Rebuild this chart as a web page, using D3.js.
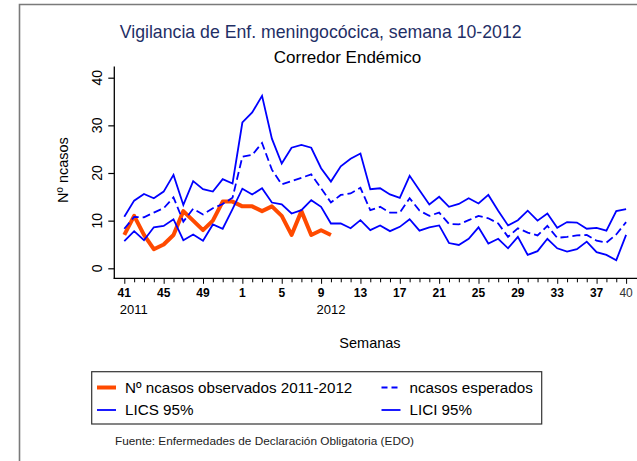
<!DOCTYPE html>
<html>
<head>
<meta charset="utf-8">
<script src="https://cdn.jsdelivr.net/npm/d3@7/dist/d3.min.js"></script>
<style>
  html, body { margin: 0; padding: 0; background: #fff; }
  svg { display: block; font-family: "Liberation Sans", Arial, sans-serif; }
</style>
</head>
<body>
<svg id="chart" width="637" height="461"></svg>
<script>
// ---- data ----
const weeks = ["41","42","43","44","45","46","47","48","49","50","51","52",
  "1","2","3","4","5","6","7","8","9","10","11","12","13","14","15","16","17","18","19","20",
  "21","22","23","24","25","26","27","28","29","30","31","32","33","34","35","36","37","38","39","40"];
const tickWeeks = ["41","45","49","1","5","9","13","17","21","25","29","33","37","40"];
const yTicks = [0, 10, 20, 30, 40];
const observados = [7, 11, 7, 4, 5, 7, 12, 10, 8, 10, 14, 14, 13, 13, 12, 13, 11, 7, 12, 7, 8, 7];
const esperados = [8.3, 10.8, 10.7, 11.7, 12.6, 14.9, 9.8, 12.5, 11.3, 12.6, 13.5, 14.8,
  23.4, 23.8, 26.3, 20.7, 17.6, 18.3, 19.0, 19.7, 16.8, 13.8, 15.4, 15.7, 16.9, 12.2,
  12.9, 11.7, 11.7, 14.7, 12.1, 11.0, 11.7, 9.3, 9.2, 10.1, 11.0, 10.5, 9.4, 6.6,
  8.4, 7.5, 6.9, 8.9, 6.4, 6.6, 6.9, 7.0, 5.8, 5.4, 7.1, 9.7];
const lics = [10.8, 14.2, 15.6, 14.7, 16.1, 19.6, 13.3, 18.3, 16.6, 16.1, 18.7, 17.8,
  30.6, 32.7, 36.2, 27.2, 22.0, 25.3, 25.9, 25.3, 21.0, 18.2, 21.4, 23.0, 24.1, 16.6,
  16.8, 15.5, 14.8, 19.4, 16.4, 13.4, 15.0, 12.9, 13.5, 14.7, 13.6, 15.4, 12.1, 9.0,
  10.1, 12.1, 10.0, 11.5, 8.5, 9.7, 9.6, 8.3, 8.5, 7.9, 12.0, 12.4];
const lici = [5.7, 7.8, 5.9, 8.6, 8.9, 10.3, 5.9, 7.1, 5.8, 9.2, 8.3, 12.4,
  16.7, 15.5, 16.8, 13.8, 13.4, 11.5, 12.2, 14.3, 12.9, 9.4, 9.4, 8.4, 10.1, 8.0,
  9.0, 7.8, 8.7, 10.3, 7.9, 8.6, 9.0, 5.3, 4.9, 6.2, 8.6, 5.2, 6.2, 4.2,
  6.6, 2.8, 3.6, 6.2, 4.2, 3.5, 4.0, 5.6, 3.4, 2.8, 1.7, 7.0];

// ---- setup ----
const svg = d3.select("#chart");
const BLUE = "#0000ff", ORANGE = "#ff4a00";

// outer frame (left + top)
svg.append("path").attr("d", "M19.5,461V4.5H637")
  .attr("fill", "none").attr("stroke", "#7a7a7a").attr("stroke-width", 1.6);

// titles
svg.append("text").attr("x", 320.7).attr("y", 37.5).attr("text-anchor", "middle")
  .attr("font-size", 17.7).attr("fill", "#1f2f66")
  .text("Vigilancia de Enf. meningocócica, semana 10-2012");
svg.append("text").attr("x", 347.5).attr("y", 63).attr("text-anchor", "middle")
  .attr("font-size", 17).attr("fill", "#000").text("Corredor Endémico");

// scales
const x = d3.scalePoint().domain(weeks.map((w, i) => i)).range([124.3, 626.1]);
const y = d3.scaleLinear().domain([0, 40]).range([268.3, 77.7]);
const xAxisY = 278.3, yAxisX = 114.3;

// y axis
const yAxis = d3.axisLeft(y).tickValues(yTicks).tickSize(6).tickFormat("");
const gy = svg.append("g").attr("transform", `translate(${yAxisX},0)`).call(yAxis);
gy.select(".domain").remove();
gy.selectAll(".tick line").attr("stroke", "#000").attr("stroke-width", 1.2);
svg.append("line").attr("x1", yAxisX).attr("x2", yAxisX).attr("y1", 66.5).attr("y2", xAxisY + 0.6)
  .attr("stroke", "#000").attr("stroke-width", 1.3);
svg.selectAll(".ylab").data(yTicks).enter().append("text")
  .attr("transform", d => `translate(102,${y(d)}) rotate(-90)`)
  .attr("text-anchor", "middle").attr("font-size", 14).text(d => d);
svg.append("text").attr("transform", "translate(68,170) rotate(-90)")
  .attr("text-anchor", "middle").attr("font-size", 14.5).text("Nº ncasos");

// x axis
svg.append("line").attr("x1", yAxisX - 0.6).attr("x2", 637).attr("y1", xAxisY).attr("y2", xAxisY)
  .attr("stroke", "#000").attr("stroke-width", 1.3);
const xAxis = d3.axisBottom(x).tickSizeInner(4).tickSizeOuter(0).tickFormat("");
const gx = svg.append("g").attr("transform", `translate(0,${xAxisY})`).call(xAxis);
gx.select(".domain").remove();
gx.selectAll(".tick line").attr("stroke", "#000").attr("stroke-width", 1)
  .attr("y2", d => tickWeeks.includes(weeks[d]) ? 5.5 : 4);
const majorIdx = weeks.map((w, i) => i).filter(i => tickWeeks.includes(weeks[i]));
svg.selectAll(".xlab").data(majorIdx).enter().append("text")
  .attr("x", d => x(d)).attr("y", 297).attr("text-anchor", "middle")
  .attr("font-size", 12)
  .attr("font-weight", d => weeks[d] === "40" ? "normal" : "bold")
  .attr("fill", d => weeks[d] === "40" ? "#333" : "#000")
  .text(d => weeks[d]);
svg.append("text").attr("x", x(0) - 4.5).attr("y", 313.5).attr("font-size", 13).text("2011");
svg.append("text").attr("x", x(weeks.indexOf("9")) - 4.5).attr("y", 313.5).attr("font-size", 13).text("2012");
svg.append("text").attr("x", 370).attr("y", 348).attr("text-anchor", "middle")
  .attr("font-size", 14.5).text("Semanas");

// lines
const line = d3.line().x((d, i) => x(i)).y(d => y(d));
svg.append("path").datum(observados).attr("d", line).attr("fill", "none")
  .attr("stroke", ORANGE).attr("stroke-width", 4).attr("stroke-linejoin", "round");
svg.append("path").datum(lici).attr("d", line).attr("fill", "none")
  .attr("stroke", BLUE).attr("stroke-width", 1.8);
svg.append("path").datum(lics).attr("d", line).attr("fill", "none")
  .attr("stroke", BLUE).attr("stroke-width", 1.8);
svg.append("path").datum(esperados).attr("d", line).attr("fill", "none")
  .attr("stroke", BLUE).attr("stroke-width", 1.8).attr("stroke-dasharray", "8,4");

// legend
const lg = svg.append("g");
lg.append("rect").attr("x", 91.7).attr("y", 371.7).attr("width", 450).attr("height", 52.3)
  .attr("fill", "#fff").attr("stroke", "#333").attr("stroke-width", 1.2);
const legendItems = [
  { label: "Nº ncasos observados 2011-2012", color: ORANGE, w: 4, dash: null, x: 97, y: 387.5 },
  { label: "ncasos esperados", color: BLUE, w: 1.8, dash: "6,4", x: 381.5, y: 387.5 },
  { label: "LICS 95%", color: BLUE, w: 1.8, dash: null, x: 97, y: 410 },
  { label: "LICI 95%", color: BLUE, w: 1.8, dash: null, x: 381.5, y: 410 }
];
legendItems.forEach(it => {
  lg.append("line").attr("x1", it.x).attr("x2", it.x + 19).attr("y1", it.y).attr("y2", it.y)
    .attr("stroke", it.color).attr("stroke-width", it.w).attr("stroke-dasharray", it.dash);
  lg.append("text").attr("x", it.x + 28).attr("y", it.y + 5.3).attr("font-size", 15.2).text(it.label);
});

svg.append("text").attr("x", 115).attr("y", 444.5).attr("font-size", 11.8).attr("fill", "#222")
  .text("Fuente: Enfermedades de Declaración Obligatoria (EDO)");
</script>
</body>
</html>
